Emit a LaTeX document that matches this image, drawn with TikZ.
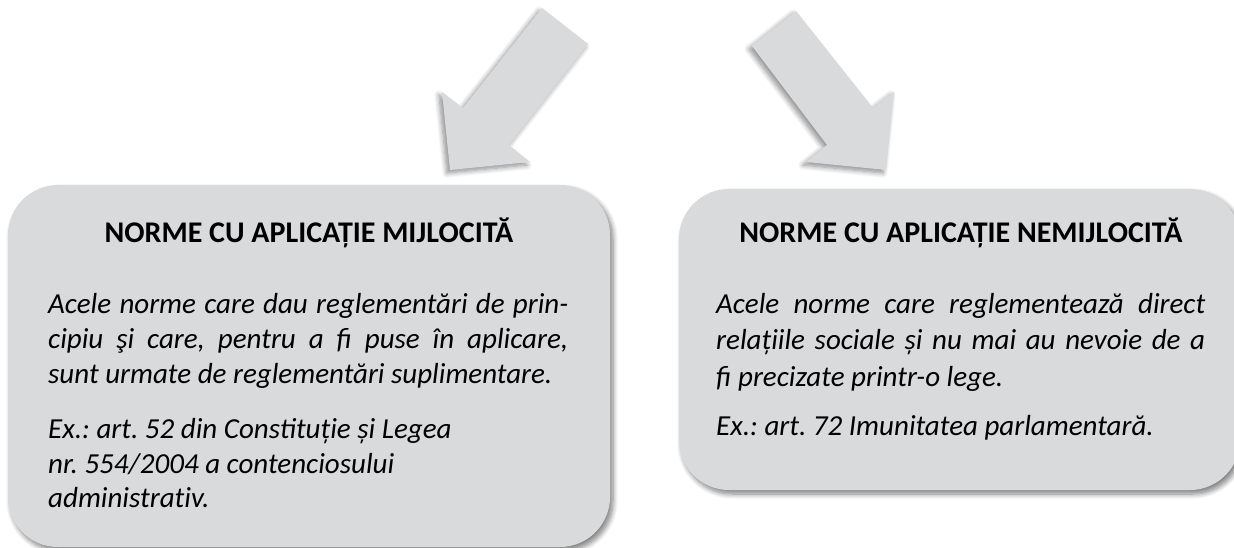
\documentclass[tikz,border=0pt]{standalone}
\usepackage{fontspec}
\setmainfont{Carlito}
\usetikzlibrary{shadows.blur}
\definecolor{boxgrey}{HTML}{D9DADC}
\frenchspacing
\tikzset{
  card/.style={draw=none, fill=boxgrey, rounded corners=50pt, inner sep=0pt,
    blur shadow={shadow xshift=3pt, shadow yshift=-4pt, shadow blur steps=8,
      shadow blur radius=5pt, shadow opacity=50}},
  blockarrow/.style={draw=none, fill=boxgrey,
    blur shadow={shadow xshift=-3pt, shadow yshift=-3pt, shadow blur steps=8,
      shadow blur radius=5pt, shadow opacity=45}},
  heading/.style={anchor=base, inner sep=0pt, font=\bfseries\fontsize{30}{36}\selectfont},
  bodyline/.style={anchor=base west, inner sep=0pt, font=\itshape\fontsize{29}{35}\selectfont}
}
\newcommand{\jline}[2]{\makebox[#1][s]{#2}}
\newcommand{\nolig}{\kern0pt }
\begin{document}
\begin{tikzpicture}[x=1pt,y=-1pt]
\useasboundingbox (0,0) rectangle (1234,548);
\clip (0,0) rectangle (1234,548);
% block arrows
\fill[blockarrow] (542,8) -- (463,108) -- (442,92) -- (450,170) -- (530,162) -- (509,145) -- (588,44) -- cycle;
\fill[blockarrow] (796,11) -- (873,108) -- (894,92) -- (886,170) -- (806,162) -- (827,145) -- (752,46) -- cycle;
% boxes
\node[card, minimum width=602pt, minimum height=362pt] (leftbox) at (309,366) {};
\node[card, minimum width=561pt, minimum height=301pt] (rightbox) at (959.5,339.5) {};
% left texts
\node[heading] (lt) at (309,242) {NORME CU APLICAȚIE MIJLOCITĂ};
\node[bodyline] (l1) at (48,313) {\jline{520pt}{Acele norme care dau reglementări de prin-}};
\node[bodyline] (l2) at (48,348) {\jline{520pt}{cipiu şi care, pentru a fi puse în aplicare,}};
\node[bodyline] (l3) at (48,383) {sunt urmate de reglementări suplimentare.};
\node[bodyline] (l4) at (48,438) {Ex.: art. 52 din Constit\nolig uție și Legea};
\node[bodyline] (l5) at (48,473) {nr. 554/2004 a contenciosului};
\node[bodyline] (l6) at (48,507) {administrat\nolig iv.};
% right texts
\node[heading] (rt) at (961,243) {NORME CU APLICAȚIE NEMIJLOCITĂ};
\node[bodyline] (r1) at (716,313) {\jline{489pt}{Acele norme care reglementează direct}};
\node[bodyline] (r2) at (716,349) {\jline{489pt}{relațiile sociale și nu mai au nevoie de a}};
\node[bodyline] (r3) at (716,386) {fi precizate printr-o lege.};
\node[bodyline] (r4) at (716,435) {Ex.: art. 72 Imunitatea parlamentară.};
\end{tikzpicture}
\end{document}
